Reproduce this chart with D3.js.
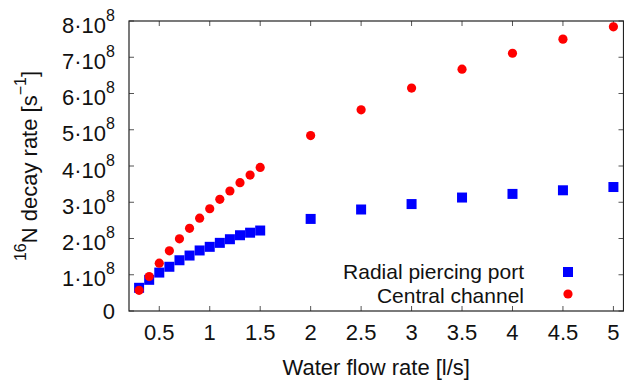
<!DOCTYPE html>
<html>
<head>
<meta charset="utf-8">
<script src="https://cdn.jsdelivr.net/npm/d3@7"></script>
<style>
  body { margin: 0; background: #fff; }
  svg text { font-family: "Liberation Sans", Arial, sans-serif; fill: #111; }
</style>
</head>
<body>
<svg id="chart"></svg>
<script>
const flow = [0.3, 0.4, 0.5, 0.6, 0.7, 0.8, 0.9, 1.0, 1.1, 1.2, 1.3, 1.4, 1.5,
              2, 2.5, 3, 3.5, 4, 4.5, 5];
const radialPort = [0.64, 0.86, 1.06, 1.22, 1.40, 1.53, 1.67, 1.77, 1.88, 1.98, 2.09, 2.16, 2.22,
                    2.54, 2.80, 2.95, 3.13, 3.23, 3.33, 3.42];
const centralChannel = [0.57, 0.95, 1.32, 1.66, 1.99, 2.28, 2.56, 2.82, 3.08, 3.31, 3.54, 3.75, 3.96,
                        4.84, 5.55, 6.15, 6.67, 7.11, 7.50, 7.84];
const xTicks = [0.5, 1, 1.5, 2, 2.5, 3, 3.5, 4, 4.5, 5];
const yTicks = [0, 1, 2, 3, 4, 5, 6, 7, 8]; // units of 10^8
const seriesNames = ["Radial piercing port", "Central channel"];

const W = 624, H = 380;
const margin = { top: 21, right: 0.5, bottom: 69, left: 129 };
const fs = "22px", fsSup = "16px";

const svg = d3.select("#chart").attr("width", W).attr("height", H);

const x = d3.scaleLinear().domain([0.2, 5.1]).range([margin.left, W - margin.right]);
const y = d3.scaleLinear().domain([0, 8]).range([H - margin.bottom, margin.top]);

// ticks (inward, mirrored on top and right)
const tickLen = 5;
const tickColor = "#555";
const ticks = svg.append("g");
ticks.selectAll(".xb").data(xTicks).enter().append("line")
    .attr("x1", d => x(d)).attr("x2", d => x(d))
    .attr("y1", y(0)).attr("y2", y(0) - tickLen)
    .style("stroke", tickColor);
ticks.selectAll(".xt").data(xTicks).enter().append("line")
    .attr("x1", d => x(d)).attr("x2", d => x(d))
    .attr("y1", y(8)).attr("y2", y(8) + tickLen)
    .style("stroke", tickColor);
ticks.selectAll(".yl").data(yTicks).enter().append("line")
    .attr("x1", x(0.2)).attr("x2", x(0.2) + tickLen)
    .attr("y1", d => y(d)).attr("y2", d => y(d))
    .style("stroke", tickColor);
ticks.selectAll(".yr").data(yTicks).enter().append("line")
    .attr("x1", W - margin.right).attr("x2", W - margin.right - tickLen)
    .attr("y1", d => y(d)).attr("y2", d => y(d))
    .style("stroke", tickColor);

// frame
svg.append("rect")
    .attr("x", x(0.2)).attr("y", y(8))
    .attr("width", x(5.1) - x(0.2)).attr("height", y(0) - y(8))
    .style("fill", "none").style("stroke", "#222").style("stroke-width", 1.2);

// x tick labels
svg.append("g").selectAll("text").data(xTicks).enter().append("text")
    .attr("x", d => x(d)).attr("y", y(0) + 29)
    .attr("text-anchor", "middle")
    .style("font-size", fs)
    .text(d => d3.format("")(d));

// y tick labels with superscript exponent
const yl = svg.append("g").selectAll("text").data(yTicks).enter().append("text")
    .attr("x", x(0.2) - 14).attr("y", d => y(d) + (d === 0 ? 7.5 : 11.5))
    .attr("text-anchor", "end")
    .style("font-size", fs);
yl.each(function(d) {
    const t = d3.select(this);
    if (d === 0) { t.text("0"); return; }
    t.append("tspan").text(d + "\u00b710");
    t.append("tspan").attr("dy", -12).style("font-size", fsSup).text("8");
});

// axis titles
svg.append("text")
    .attr("x", (x(0.2) + x(5.1)) / 2).attr("y", 375)
    .attr("text-anchor", "middle")
    .style("font-size", fs)
    .text("Water flow rate [l/s]");

const yt = svg.append("text")
    .attr("transform", `translate(37,${(y(0) + y(8)) / 2}) rotate(-90)`)
    .attr("text-anchor", "middle")
    .style("font-size", fs);
yt.append("tspan").attr("dy", -11).style("font-size", fsSup).text("16");
yt.append("tspan").attr("dy", 11).text("N decay rate [s");
yt.append("tspan").attr("dy", -11).style("font-size", fsSup).text("\u22121");
yt.append("tspan").attr("dy", 11).text("]");

// data points
const pts = flow.map((f, i) => ({ f, r: radialPort[i], c: centralChannel[i] }));
const sq = 10;
svg.append("g").selectAll("rect").data(pts).enter().append("rect")
    .attr("x", d => x(d.f) - sq / 2).attr("y", d => y(d.r) - sq / 2)
    .attr("width", sq).attr("height", sq)
    .style("fill", "#0000ff");
svg.append("g").selectAll("circle").data(pts).enter().append("circle")
    .attr("cx", d => x(d.f)).attr("cy", d => y(d.c))
    .attr("r", 4.6)
    .style("fill", "#ff0000");

// legend
const lg = svg.append("g");
lg.append("text").attr("x", 524).attr("y", 279).attr("text-anchor", "end")
    .style("font-size", "21px").text(seriesNames[0]);
lg.append("rect").attr("x", 568 - sq / 2).attr("y", 272 - sq / 2)
    .attr("width", sq).attr("height", sq).style("fill", "#0000ff");
lg.append("text").attr("x", 524).attr("y", 303).attr("text-anchor", "end")
    .style("font-size", "21px").text(seriesNames[1]);
lg.append("circle").attr("cx", 568).attr("cy", 294).attr("r", 4.6).style("fill", "#ff0000");
</script>
</body>
</html>
